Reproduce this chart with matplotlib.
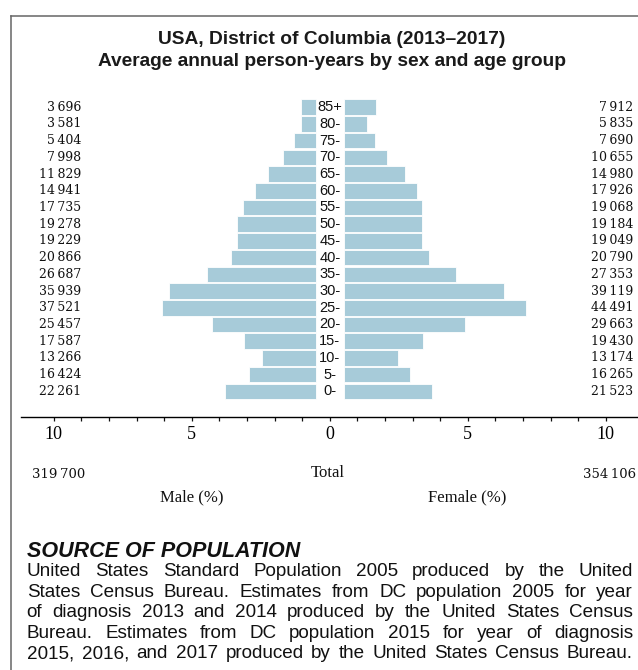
import matplotlib
matplotlib.use("Agg")
import matplotlib.pyplot as plt
from matplotlib.lines import Line2D
from matplotlib.transforms import blended_transform_factory

# --- data -------------------------------------------------------------------
AGES = ["0-", "5-", "10-", "15-", "20-", "25-", "30-", "35-", "40-", "45-",
        "50-", "55-", "60-", "65-", "70-", "75-", "80-", "85+"]
MALE = [22261, 16424, 13266, 17587, 25457, 37521, 35939, 26687, 20866, 19229,
        19278, 17735, 14941, 11829, 7998, 5404, 3581, 3696]
FEMALE = [21523, 16265, 13174, 19430, 29663, 44491, 39119, 27353, 20790, 19049,
          19184, 19068, 17926, 14980, 10655, 7690, 5835, 7912]
TOTAL_M = 319700
TOTAL_F = 354106
TITLE = ["USA, District of Columbia (2013\u20132017)",
         "Average annual person-years by sex and age group"]
SOURCE_HEAD = "SOURCE OF POPULATION"
SOURCE_LINES = [
    "United States Standard Population 2005 produced by the United",
    "States Census Bureau. Estimates from DC population 2005 for year",
    "of diagnosis 2013 and 2014 produced by the United States Census",
    "Bureau. Estimates from DC population 2015 for year of diagnosis",
    "2015, 2016, and 2017 produced by the United States Census Bureau.",
]

BAR = "#A7CBD9"
GAP = 0.5          # half-width of the centre gap holding the age labels (in %)
W, H = 638, 670    # figure size in px (dpi 100)


def fmt(v):
    return f"{v:,}".replace(",", "\u2009")


def fx(px):  # px -> figure fraction
    return px / W


def fy(py):
    return 1 - py / H


grand = TOTAL_M + TOTAL_F
pm = [v / grand * 100 for v in MALE]
pf = [v / grand * 100 for v in FEMALE]
ys = list(range(len(AGES)))

fig = plt.figure(figsize=(W / 100, H / 100), dpi=100)
ax = fig.add_axes([fx(20.7), fy(416.7), 1 - fx(20.7), fy(95.5) - fy(416.7)])

ax.barh(ys, [-v for v in pm], left=-GAP, height=0.93, color=BAR,
        edgecolor="white", linewidth=0.6)
ax.barh(ys, pf, left=GAP, height=0.93, color=BAR,
        edgecolor="white", linewidth=0.6)

ax.set_xlim(-11.2, 11.17)
ax.set_ylim(-1.52, 17.7)

# age labels in the gap, counts on both sides
bt = blended_transform_factory(fig.transFigure, ax.transData)
for y, a, m, f in zip(ys, AGES, MALE, FEMALE):
    ax.text(0, y, a, ha="center", va="center", fontsize=10.5,
            family="Liberation Sans", color="#111")
    ax.text(fx(81), y, fmt(m), transform=bt, ha="right", va="center",
            fontsize=9, family="DejaVu Serif", color="#111")
    ax.text(fx(633), y, fmt(f), transform=bt, ha="right", va="center",
            fontsize=9, family="DejaVu Serif", color="#111")

for s in ["top", "left", "right"]:
    ax.spines[s].set_visible(False)
ax.spines["bottom"].set_linewidth(1.0)
ax.set_yticks([])
ticks = list(range(-10, 11))
ax.set_xticks(ticks)
ax.set_xticklabels([str(abs(t)) if t % 5 == 0 else "" for t in ticks],
                   family="Liberation Serif", fontsize=13)
ax.tick_params(axis="x", length=3, width=0.9, pad=3.5, color="#111")

# totals and axis captions
fig.text(fx(32), fy(475), fmt(TOTAL_M), ha="left", va="center",
         fontsize=9.5, family="DejaVu Serif", color="#111")
fig.text(fx(328), fy(473), "Total", ha="center", va="center",
         fontsize=12, family="Liberation Serif", color="#111")
fig.text(fx(636), fy(475), fmt(TOTAL_F), ha="right", va="center",
         fontsize=9.5, family="DejaVu Serif", color="#111")
fig.text(fx(192), fy(497), "Male (%)", ha="center", va="center",
         fontsize=12, family="Liberation Serif", color="#111")
fig.text(fx(467), fy(497), "Female (%)", ha="center", va="center",
         fontsize=12, family="Liberation Serif", color="#111")

# title
for py, t in zip([39.5, 61], TITLE):
    fig.text(fx(332), fy(py), t, ha="center", va="center", fontsize=13.8,
             fontweight="bold", family="Liberation Sans", color="#1a1a1a")

# frame (left and top border)
fig.add_artist(Line2D([fx(11), fx(11)], [fy(15.7), 0], transform=fig.transFigure,
                      color="#666", lw=1.1))
fig.add_artist(Line2D([fx(11), 1], [fy(15.7), fy(15.7)], transform=fig.transFigure,
                      color="#666", lw=1.1))

# source note, justified between x0 and x1
fig.text(fx(26.7), fy(551.7), SOURCE_HEAD, ha="left", va="center", fontsize=15.5,
         fontweight="bold", style="italic", family="Liberation Sans", color="#111")

renderer = fig.canvas.get_renderer()
x0, x1 = 26.7, 633
for i, line in enumerate(SOURCE_LINES):
    py = 572 + i * 20.4
    words = line.split()
    arts = [fig.text(0, fy(py), w, ha="left", va="center", fontsize=13.6,
                     family="Liberation Sans", color="#111") for w in words]
    widths = [a.get_window_extent(renderer).width for a in arts]
    gap = (x1 - x0 - sum(widths)) / (len(words) - 1)
    x = x0
    for a, w in zip(arts, widths):
        a.set_x(fx(x))
        x += w + gap

fig.savefig("out.png", dpi=100)
